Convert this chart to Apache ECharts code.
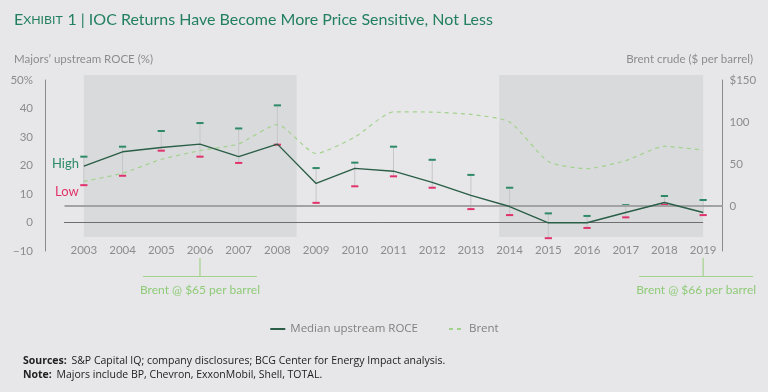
<!DOCTYPE html>
<html>
<head>
<meta charset="utf-8">
<script src="https://cdn.jsdelivr.net/npm/echarts@6/dist/echarts.min.js"></script>
<style>
html,body{margin:0;padding:0;background:#e7e7e9;}
#c{width:768px;height:392px;}
</style>
</head>
<body>
<div id="c"></div>
<script>
// ---- data ----
const years = ['2003','2004','2005','2006','2007','2008','2009','2010','2011','2012','2013','2014','2015','2016','2017','2018','2019'];
const medianROCE = [19.8, 24.8, 26.3, 27.5, 23.1, 27.5, 13.7, 19.0, 18.0, 14.1, 9.5, 5.6, -0.1, -0.1, 3.5, 7.0, 3.5];
const highROCE   = [23.1, 26.6, 32.1, 34.9, 33.0, 41.1, 19.1, 21.0, 26.6, 22.0, 16.7, 12.2, 3.2, 2.3, 6.1, 9.3, 7.9];
const lowROCE    = [13.1, 16.4, 25.2, 23.1, 20.9, 27.3, 6.9, 12.7, 16.2, 12.2, 4.7, 2.6, -5.5, -1.9, 1.8, 6.2, 2.6];
const brent      = [29.4, 39.0, 55.5, 65.9, 74.0, 97.0, 62.5, 82.0, 112.0, 111.8, 109.0, 100.0, 53.0, 44.4, 54.0, 71.0, 66.5];
const leftTicks = [-10, 0, 10, 20, 30, 40, 50];
const rightTicks = [0, 50, 100, 150];
const shadedPeriods = [[2003, 2008.5], [2013.73, 2019]];
const zeroLine = [[2002, 0], [2019, 0]];
const annotations = [
  {year: '2006', text: 'Brent @ $65 per barrel', shift: 0},
  {year: '2019', text: 'Brent @ $66 per barrel', shift: -7}
];

const GREEN_HI = '#2f8a68';
const PINK_LO = '#e0336a';
const MEDIAN_C = '#2a5e46';
const BRENT_C = '#a3d28c';
const AXIS_C = '#8a8a8a';
const TXT_C = '#8c8c8c';
const FONT = '"Open Sans", "Noto Sans", sans-serif';
const TFONT = 'Lato, "Open Sans", sans-serif';

const chart = echarts.init(document.getElementById('c'), null, {renderer: 'canvas'});

const whiskerData = years.map((y, i) => [Number(y), lowROCE[i], highROCE[i]]);
const shadeData = shadedPeriods.map(p => [p[0], p[1]]);

const option = {
  backgroundColor: '#e7e7e9',
  animation: false,
  textStyle: {fontFamily: FONT},
  title: [{
    left: 14, top: 11, padding: 0,
    text: '{e|E}{s|XHIBIT} {e|1 | IOC Returns Have Become More Price Sensitive, Not Less}',
    textStyle: {
      fontWeight: 'normal',
      rich: {
        e: {fontSize: 16, color: '#23805f', fontFamily: TFONT, fontWeight: 'normal'},
        s: {fontSize: 12.3, color: '#23805f', fontFamily: TFONT, fontWeight: 'normal'}
      }
    }
  }, {
    left: 23, top: 354, padding: 0,
    text: '{b|Sources:} {n|S&P Capital IQ; company disclosures; BCG Center for Energy Impact analysis.}\n{b|Note:} {n|Majors include BP, Chevron, ExxonMobil, Shell, TOTAL.}',
    textStyle: {
      fontWeight: 'normal',
      lineHeight: 14,
      rich: {
        b: {fontSize: 10.5, fontWeight: 'bold', color: '#222', fontFamily: FONT, lineHeight: 14},
        n: {fontSize: 10.5, fontWeight: 'normal', color: '#222', fontFamily: FONT, lineHeight: 14}
      }
    }
  }, {
    left: 14, top: 53, padding: 0,
    text: "Majors’ upstream ROCE (%)",
    textStyle: {fontSize: 11.5, color: TXT_C, fontWeight: 'normal', fontFamily: TFONT}
  }, {
    right: 15, top: 53, padding: 0,
    text: 'Brent crude ($ per barrel)',
    textStyle: {fontSize: 11.5, color: TXT_C, fontWeight: 'normal', fontFamily: TFONT}
  }],
  legend: {
    left: 'center', top: 318,
    itemWidth: 15, itemHeight: 8, itemGap: 30,
    itemStyle: {opacity: 0},
    textStyle: {color: '#808080', fontSize: 11.5, fontFamily: FONT},
    data: ['Median upstream ROCE', 'Brent']
  },
  grid: {left: 64.5, right: 45.5, top: 80, bottom: 141, containLabel: false},
  xAxis: [{
    type: 'category', data: years, boundaryGap: true,
    axisLine: {show: false}, axisTick: {show: false},
    axisLabel: {color: TXT_C, fontSize: 11.5, margin: -7, fontFamily: TFONT}
  }, {
    type: 'value', min: 2002.5, max: 2019.5, show: false
  }],
  yAxis: [{
    type: 'value', min: -10, max: 50, interval: 10, position: 'left', offset: 19.5,
    axisLine: {show: true, lineStyle: {color: AXIS_C, width: 1}},
    axisTick: {show: false}, splitLine: {show: false},
    axisLabel: {
      color: TXT_C, fontSize: 11.5, margin: 12, fontFamily: TFONT,
      customValues: leftTicks,
      formatter: v => v === 50 ? '50%' : (v < 0 ? '\u2212' + Math.abs(v) : String(v))
    }
  }, {
    type: 'value', min: -53.6, max: 150, position: 'right',
    axisLine: {show: true, lineStyle: {color: AXIS_C, width: 1}},
    axisTick: {show: false}, splitLine: {show: false},
    axisLabel: {
      color: TXT_C, fontSize: 11.5, margin: 7, fontFamily: TFONT,
      customValues: rightTicks,
      formatter: v => v === 150 ? '$150' : String(v)
    }
  }],
  series: [{
    // shaded periods
    type: 'custom', xAxisIndex: 1, yAxisIndex: 0, clip: false, silent: true, z: 0,
    data: shadeData,
    renderItem: (params, api) => {
      const p0 = api.coord([api.value(0), 51.75]);
      const p1 = api.coord([api.value(1), -5.1]);
      return {type: 'rect', shape: {x: p0[0], y: p0[1], width: p1[0] - p0[0], height: p1[1] - p0[1]},
              style: {fill: '#d9dadc'}};
    }
  }, {
    // dark reference line at ROCE 0
    type: 'line', xAxisIndex: 1, yAxisIndex: 0, clip: false, silent: true, z: 1,
    data: zeroLine, symbol: 'none',
    lineStyle: {color: '#6e6e6e', width: 1}
  }, {
    type: 'line', yAxisIndex: 1, data: [], silent: true,
    markLine: {
      silent: true, symbol: 'none', label: {show: false},
      lineStyle: {color: '#a3a3a3', width: 1.8, type: 'solid'},
      data: [{yAxis: 0}]
    }
  }, {
    // high / low whiskers
    type: 'custom', xAxisIndex: 1, yAxisIndex: 0, clip: false, silent: true, z: 3,
    data: whiskerData,
    encode: {x: 0, y: [1, 2]},
    renderItem: (params, api) => {
      const lo = api.coord([api.value(0), api.value(1)]);
      const hi = api.coord([api.value(0), api.value(2)]);
      const hw = 3.6;
      return {type: 'group', children: [
        {type: 'line', shape: {x1: hi[0], y1: hi[1], x2: lo[0], y2: lo[1]}, style: {stroke: '#c6c6c8', lineWidth: 1}},
        {type: 'line', shape: {x1: hi[0] - hw, y1: hi[1], x2: hi[0] + hw, y2: hi[1]}, style: {stroke: GREEN_HI, lineWidth: 2}},
        {type: 'line', shape: {x1: lo[0] - hw, y1: lo[1], x2: lo[0] + hw, y2: lo[1]}, style: {stroke: PINK_LO, lineWidth: 2}}
      ]};
    }
  }, {
    name: 'Brent', type: 'line', yAxisIndex: 1, data: brent,
    symbol: 'none', smooth: 0.2, z: 4,
    lineStyle: {color: BRENT_C, width: 1.2, type: [4, 4]},
    itemStyle: {color: BRENT_C}
  }, {
    name: 'Median upstream ROCE', type: 'line', yAxisIndex: 0, data: medianROCE,
    symbol: 'none', z: 5,
    lineStyle: {color: MEDIAN_C, width: 1.4},
    itemStyle: {color: MEDIAN_C}
  }],
  graphic: [{
    type: 'text', left: 52, top: 157,
    style: {text: 'High', fill: GREEN_HI, fontSize: 13, fontFamily: TFONT}
  }, {
    type: 'text', left: 55, top: 185,
    style: {text: 'Low', fill: PINK_LO, fontSize: 13, fontFamily: TFONT}
  }]
};
chart.setOption(option);

// annotation brackets below the x axis, positioned through the category scale
const extra = [];
annotations.forEach(a => {
  const x = chart.convertToPixel({xAxisIndex: 0}, a.year);
  const cx = x + a.shift;
  const half = 57;
  extra.push({type: 'line', shape: {x1: x, y1: 258, x2: x, y2: 276.5}, style: {stroke: BRENT_C, lineWidth: 1.2}, silent: true});
  extra.push({type: 'line', shape: {x1: cx - half, y1: 276.5, x2: cx + half, y2: 276.5}, style: {stroke: BRENT_C, lineWidth: 1.2}, silent: true});
  extra.push({type: 'text', x: cx, y: 290, style: {text: a.text, fill: '#8fcb78', fontSize: 12, fontFamily: TFONT, align: 'center', verticalAlign: 'middle'}, silent: true});
});
chart.setOption({graphic: option.graphic.concat(extra)});
</script>
</body>
</html>
